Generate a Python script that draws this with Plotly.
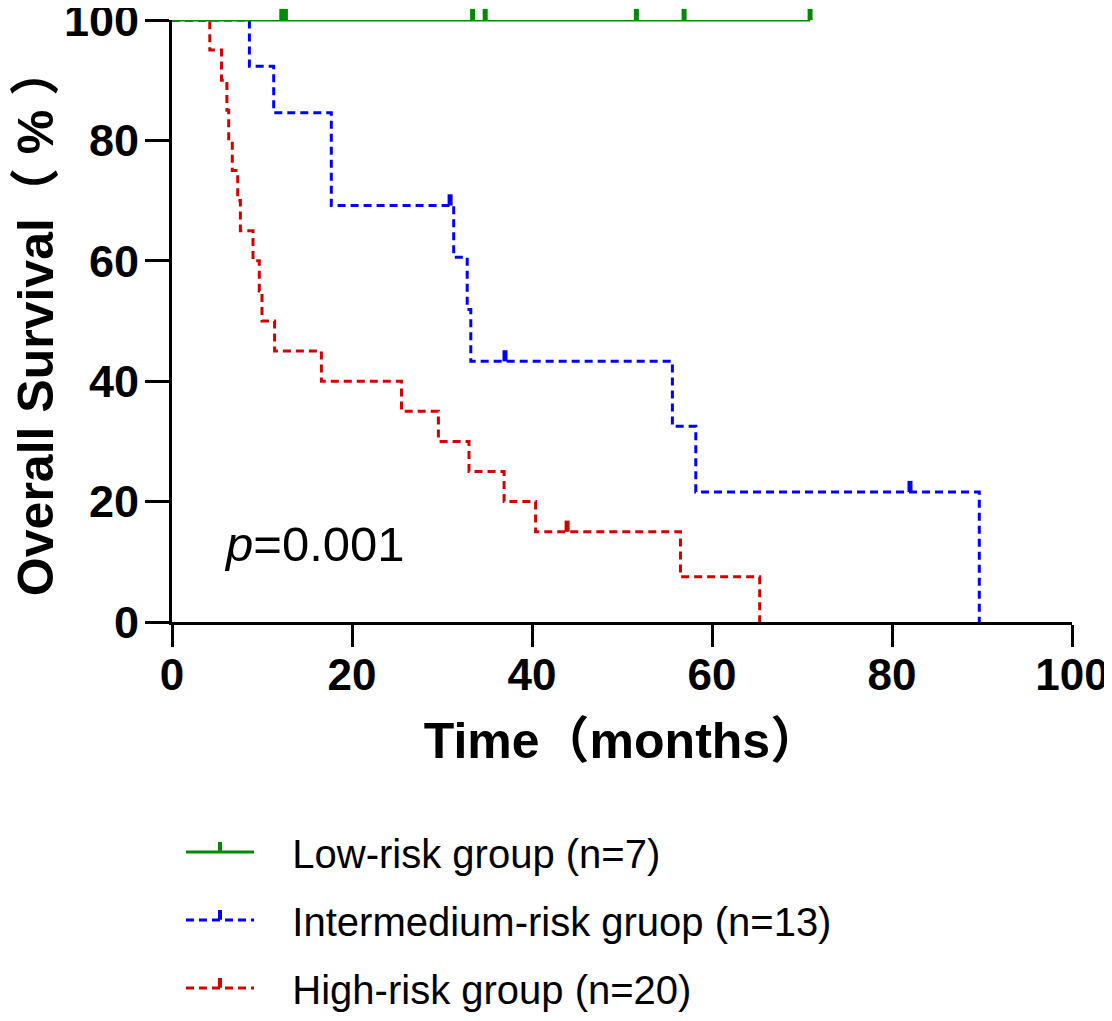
import plotly.graph_objects as go

# Kaplan-Meier step points (time in months, survival in %)
low_time = [0, 70.9]
low_surv = [100, 100]
low_cens_time = [12.2, 12.6, 33.4, 34.8, 51.6, 56.9, 70.9]
low_cens_surv = [100, 100, 100, 100, 100, 100, 100]

mid_time = [0, 8.6, 11.3, 17.7, 31.3, 32.8, 33.2, 55.6, 58.2, 89.7]
mid_surv = [100, 92.3, 84.6, 69.2, 60.6, 51.9, 43.3, 32.5, 21.6, 0]
mid_cens_time = [30.9, 37.0, 82.0]
mid_cens_surv = [69.2, 43.3, 21.6]

high_time = [0, 4.2, 5.5, 6.1, 6.3, 6.7, 7.3, 7.6, 9.0, 9.7, 10.0, 11.4,
             16.6, 25.5, 29.6, 33.0, 36.9, 40.4, 56.5, 65.3]
high_surv = [100, 95, 90, 85, 80, 75, 70, 65, 60, 55, 50, 45,
             40, 35, 30, 25, 20, 15, 7.5, 0]
high_cens_time = [43.9]
high_cens_surv = [15]

group_names = ["Low-risk group (n=7)", "Intermedium-risk gruop (n=13)", "High-risk group (n=20)"]
x_ticks = [0, 20, 40, 60, 80, 100]
y_ticks = [0, 20, 40, 60, 80, 100]

GREEN = "#008a00"
BLUE = "#0000ff"
RED = "#d40000"

groups = [
    # name, times, surv, censor times, censor surv, colour, dash
    (group_names[2], high_time, high_surv, high_cens_time, high_cens_surv, RED, "8px,5px"),
    (group_names[1], mid_time, mid_surv, mid_cens_time, mid_cens_surv, BLUE, "8px,5px"),
    (group_names[0], low_time, low_surv, low_cens_time, low_cens_surv, GREEN, "solid"),
]

fig = go.Figure()

for rank, (name, t, s, ct, cs, col, dash) in enumerate(groups):
    fig.add_trace(go.Scatter(x=t, y=s, mode="lines", line_shape="hv", cliponaxis=False,
                             line=dict(color=col, width=3, dash=dash),
                             showlegend=False, hoverinfo="skip"))
    # censor ticks, pushed up so they sit on top of the curve
    fig.add_trace(go.Scatter(x=ct, y=cs, mode="markers", cliponaxis=False,
                             marker=dict(symbol="line-ns", size=8, angle=180, standoff=5.5,
                                         line=dict(color=col, width=5)),
                             showlegend=False, hoverinfo="skip"))
    # legend-only entry (line with censor tick on top)
    fig.add_trace(go.Scatter(x=[None], y=[None], mode="lines+markers",
                             name="\u00a0\u00a0\u00a0" + name,
                             legendgroup=name, legendrank=3 - rank,
                             line=dict(color=col, width=3, dash=dash),
                             marker=dict(symbol="line-ns", size=7, angle=0, standoff=5,
                                         line=dict(color=col, width=4))))

fig.add_annotation(x=5.5, y=13, xref="x", yref="y", xanchor="left", yanchor="middle",
                   text="<i>p</i>=0.001", showarrow=False,
                   font=dict(family="Liberation Sans", size=49, color="black"))

# page body has an 8px margin, so the figure is a bit smaller than the window
fig.update_layout(
    width=1104, height=1013,
    margin=dict(l=164, r=40, t=12, b=399, autoexpand=False),
    paper_bgcolor="white", plot_bgcolor="white",
    font=dict(family="Liberation Sans", color="black"),
    legend=dict(x=0.01, y=-0.328, xanchor="left", yanchor="top",
                traceorder="grouped", tracegroupgap=13, itemwidth=68,
                font=dict(family="Liberation Sans", size=40)),
)

fig.update_xaxes(range=[0, 100], tickvals=x_ticks, showgrid=False, zeroline=False,
                 automargin=False, ticklabeloverflow="allow",
                 showline=True, linecolor="black", linewidth=3,
                 ticks="outside", ticklen=22, tickwidth=3, tickcolor="black",
                 ticklabelstandoff=-10,
                 tickfont=dict(family="Liberation Sans", size=44, weight="bold"),
                 title=dict(text="<b>Time（months）</b>", standoff=26,
                            font=dict(family="Liberation Sans, Noto Sans CJK SC", size=50)))
fig.update_yaxes(range=[0, 100], tickvals=y_ticks, showgrid=False, zeroline=False,
                 automargin=False, ticklabeloverflow="allow",
                 showline=True, linecolor="black", linewidth=3,
                 ticks="outside", ticklen=24, tickwidth=3, tickcolor="black",
                 ticklabelstandoff=-3,
                 tickfont=dict(family="Liberation Sans", size=45, weight="bold"),
                 title=dict(text="<b>Overall Survival（ % ）</b>", standoff=2,
                            font=dict(family="Liberation Sans, Noto Sans CJK SC", size=50)))

fig.write_html("out.html")
